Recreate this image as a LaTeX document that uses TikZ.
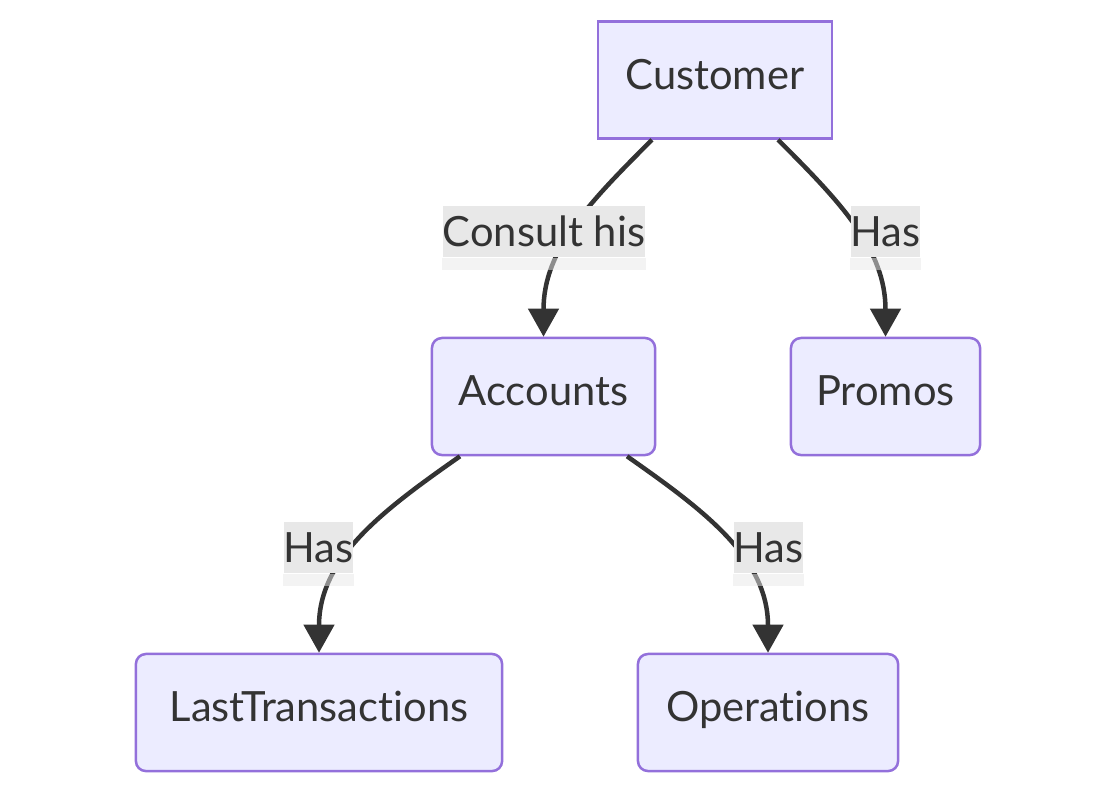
\documentclass[tikz,border=0pt]{standalone}
\usepackage{fontspec}
\setmainfont{Lato}[Ligatures={NoCommon, NoRare}]
\usetikzlibrary{arrows.meta}
\definecolor{nodefill}{HTML}{ECECFF}
\definecolor{nodeline}{HTML}{9370DB}
\definecolor{ink}{HTML}{333333}
\definecolor{lblgray}{HTML}{E8E8E8}

\begin{document}
\begin{tikzpicture}[x=0.01cm, y=0.01cm,
  box/.style={draw=nodeline, fill=nodefill, line width=0.025cm, text=ink, minimum height=1.17cm, text height=0.3cm, text depth=0.12cm, font=\fontsize{11.85}{14}\selectfont},
  rbox/.style={box, rounded corners=0.1cm},
  edge/.style={draw=ink, line width=0.045cm, -{Triangle[length=0.28cm, width=0.3cm]}},
  lbl/.style={fill=lblgray, text=ink, inner xsep=0pt, inner ysep=0pt, minimum height=0.51cm, font=\fontsize{11.85}{14}\selectfont}]
\useasboundingbox (0,0) rectangle (1116,-793);

% Top block
\node[box, minimum width=2.34cm] (customer) at (715,-80) {Customer};

% Middle row
\node[rbox, minimum width=2.23cm] (accounts) at (543.5,-396.5) {Accounts};
\node[rbox, minimum width=1.89cm] (promos) at (885.5,-396.5) {Promos};

% Bottom row
\node[rbox, minimum width=3.66cm] (lasttrans) at (319,-712.5) {LastTransactions};
\node[rbox, minimum width=2.6cm] (operations) at (768,-712.5) {Operations};

% Connecting arrows
\draw[edge] ([xshift=-0.63cm]customer.south) to[out=-135, in=90] (accounts.north);
\draw[edge] ([xshift=0.63cm]customer.south) to[out=-45, in=90] (promos.north);
\draw[edge] ([xshift=-0.835cm]accounts.south) to[out=-145, in=90] (lasttrans.north);
\draw[edge] ([xshift=0.835cm]accounts.south) to[out=-35, in=90] (operations.north);

% Edge labels
\node[lbl] (consult) at (544,-231.5) {Consult his};
\node[lbl] (haspromos) at (885.5,-231.5) {Has};
\node[lbl] (haslast) at (318.5,-547.5) {Has};
\node[lbl] (hasops) at (768.5,-547.5) {Has};
\foreach \l in {consult, haspromos, haslast, hasops}
  \fill[lblgray, fill opacity=0.5] (\l.south west) rectangle ([yshift=-0.12cm]\l.south east);

\end{tikzpicture}
\end{document}
